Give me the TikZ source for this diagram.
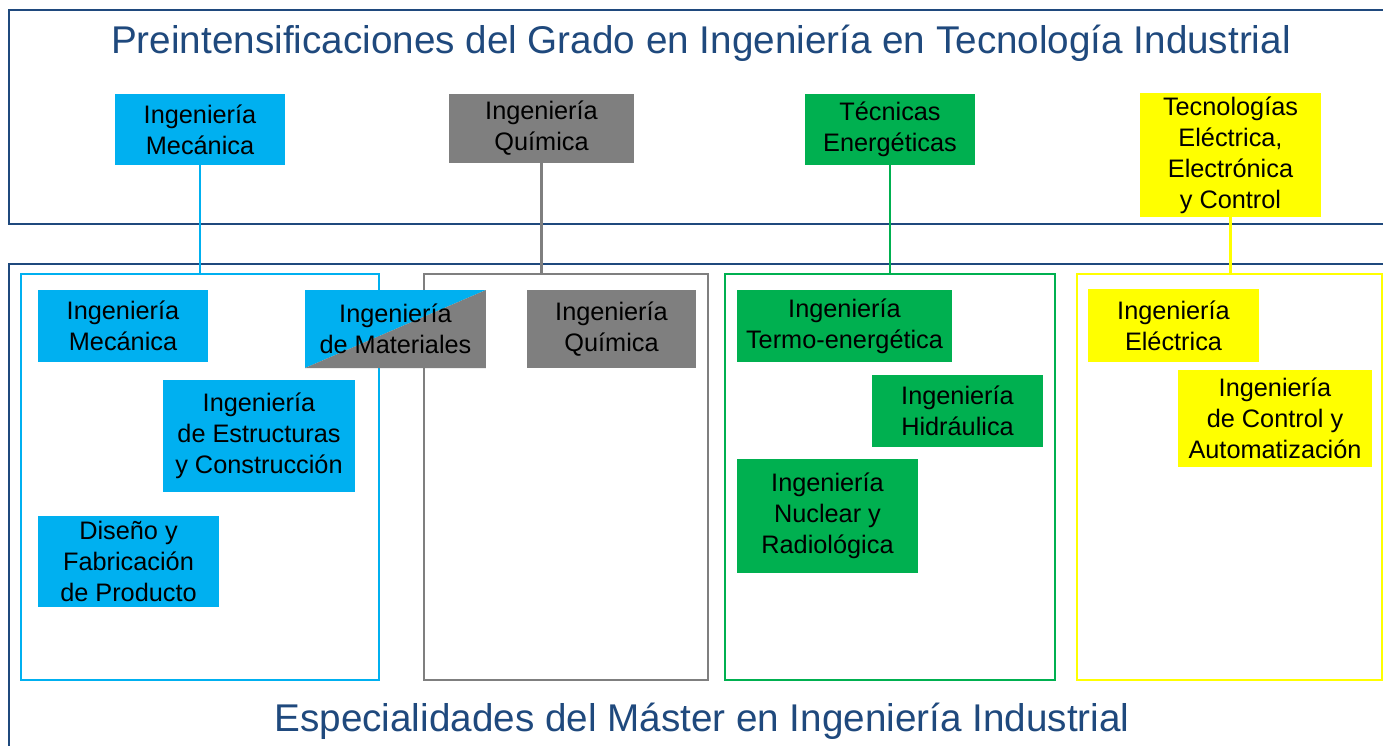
\documentclass[tikz,border=0pt]{standalone}
\usepackage{fontspec}
\setmainfont{Liberation Sans}
\usepackage{tikz}
\definecolor{nblue}{RGB}{0, 176, 240}
\definecolor{ngray}{RGB}{127, 127, 127}
\definecolor{ngreen}{RGB}{0, 176, 80}
\definecolor{nyellow}{RGB}{255, 255, 0}
\definecolor{ntitle}{RGB}{31, 73, 125}

\begin{document}
\begin{tikzpicture}[x=0.02cm,y=-0.02cm]
    \tikzstyle{every node}=[inner sep=0,outer sep=0]
    \tikzstyle{spec}=[fill=#1,align=center,font=\fontsize{14.4}{17.6}\selectfont]
    \tikzstyle{group}=[draw=#1,line width=1.5pt,fill=none]
    \tikzstyle{link}=[draw=#1,line width=1.4pt]
    \clip (0,0) rectangle (1383,745);
    \fill[white] (0,0) rectangle (1383,745);
    % outer frames
    \draw[ntitle,line width=1.1pt] (9,10) rectangle (1400,224);
    \draw[ntitle,line width=1.1pt] (9,264) rectangle (1400,770);
    \node[text=ntitle,font=\fontsize{22}{26}\selectfont] (top) at (701,43)
        {Preintensificaciones del Grado en Ingeniería en Tecnología Industrial};
    \node[text=ntitle,font=\fontsize{22}{26}\selectfont] (bot) at (702,721)
        {Especialidades del Máster en Ingeniería Industrial};
    % preintensificaciones
    \node[spec=nblue,minimum width=3.4cm,minimum height=1.42cm] (pm) at (200,129.5) {Ingeniería\\Mecánica};
    \node[spec=ngray,minimum width=3.7cm,minimum height=1.38cm] (pq) at (541.5,128.5) {Ingeniería\\Química};
    \node[spec=ngreen,minimum width=3.4cm,minimum height=1.42cm] (pe) at (890,129.5) {Técnicas\\Energéticas};
    \node[spec=nyellow,minimum width=3.62cm,minimum height=2.48cm] (pt) at (1230.5,155) {Tecnologías\\Eléctrica,\\Electrónica\\y Control};
    % especialidades
    \node[group=nblue,minimum width=7.16cm,minimum height=8.12cm] (gm) at (200,477) {};
    \node[group=ngray,minimum width=5.68cm,minimum height=8.12cm] (gq) at (566,477) {};
    \node[group=ngreen,minimum width=6.6cm,minimum height=8.12cm] (ge) at (890,477) {};
    \node[group=nyellow,minimum width=6.1cm,minimum height=8.12cm] (gt) at (1229.5,477) {};
    \draw[link=nblue] (pm) -- (gm);
    \draw[link=ngray] (pq) -- (pq |- gq.north);
    \draw[link=ngreen] (pe) -- (ge);
    \draw[link=nyellow] (pt) -- (pt |- gt.north);
    \node[spec=nblue,minimum width=3.4cm,minimum height=1.44cm] (im) at (123,326) {Ingeniería\\Mecánica};
    \node[spec=nblue,minimum width=3.84cm,minimum height=2.24cm] (est) at (259,436) {Ingeniería\\de Estructuras\\y Construcción};
    \node[spec=nblue,minimum width=3.62cm,minimum height=1.82cm] (dis) at (128.5,561.5) {Diseño y\\Fabricación\\de Producto};
    \node[spec=none,minimum width=3.62cm,minimum height=1.56cm,
        path picture={
            \fill[nblue] (path picture bounding box.north west) -- (path picture bounding box.north east)
                -- (path picture bounding box.south west) -- cycle;
            \fill[ngray] (path picture bounding box.north east) -- (path picture bounding box.south east)
                -- (path picture bounding box.south west) -- cycle;
        }] (mat) at (395.5,329) {Ingeniería\\de Materiales};
    \node[spec=ngray,minimum width=3.38cm,minimum height=1.56cm] (iq) at (611.5,329) {Ingeniería\\Química};
    \node[spec=ngreen,minimum width=4.3cm,minimum height=1.44cm] (ter) at (844.5,326) {Ingeniería\\Termo-energética};
    \node[spec=ngreen,minimum width=3.42cm,minimum height=1.44cm] (hid) at (957.5,411) {Ingeniería\\Hidráulica};
    \node[spec=ngreen,minimum width=3.62cm,minimum height=2.28cm] (nuc) at (827.5,516) {Ingeniería\\Nuclear y\\Radiológica};
    \node[spec=nyellow,minimum width=3.42cm,minimum height=1.46cm] (ele) at (1173.5,325.5) {Ingeniería\\Eléctrica};
    \node[spec=nyellow,minimum width=3.88cm,minimum height=1.94cm] (aut) at (1275,418.5) {Ingeniería\\de Control y\\Automatización};
\end{tikzpicture}
\end{document}
